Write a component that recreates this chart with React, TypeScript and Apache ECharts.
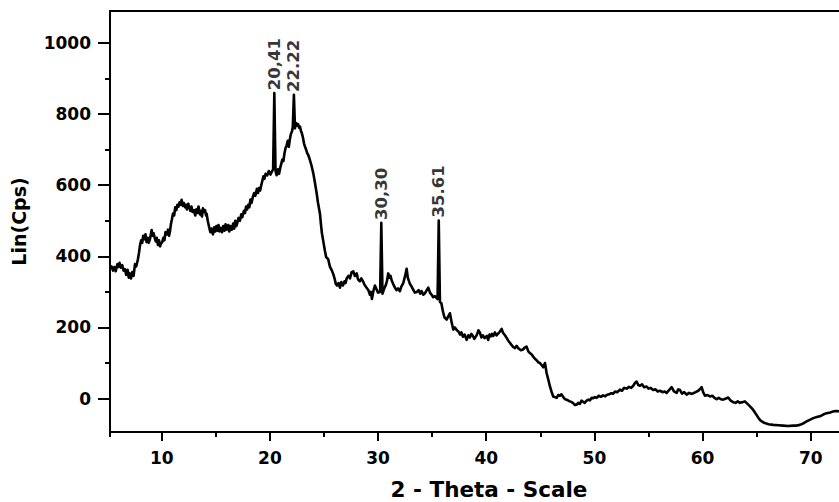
import { useEffect, useRef } from "react";
import * as echarts from "echarts";

// Axis ranges (2θ in degrees, intensity in counts per second)
const X_MIN = 5.22;
const X_MAX = 75.29;
const Y_MIN = -94;
const Y_MAX = 1090;

const xMajorTicks = [10, 20, 30, 40, 50, 60, 70];
const xMinorTicks = [X_MIN, 15, 25, 35, 45, 55, 65];
const yMajorTicks = [0, 200, 400, 600, 800, 1000];
const yMinorTicks = [100, 300, 500, 700, 900];

// Indexed reflections
const peakTheta = [20.41, 22.22, 30.3, 35.61];
const peakCounts = [859, 854, 494, 501];
const peakLabels = ["20,41", "22.22", "30,30", "35.61"];

// Diffractogram, 5–14.3°
const scanLow: [number, number][] = [
  [5.22, 365], [5.35, 372], [5.5, 360], [5.62, 370], [5.75, 358], [5.9, 378], [6.0, 370], [6.1, 382],
  [6.22, 368], [6.35, 375], [6.48, 360], [6.6, 364], [6.72, 348], [6.85, 362], [6.95, 340], [7.05, 352],
  [7.16, 338], [7.28, 356], [7.4, 345], [7.53, 378], [7.65, 372], [7.8, 392], [7.9, 410], [8.0, 432],
  [8.1, 445], [8.2, 438], [8.29, 458], [8.4, 448], [8.5, 462], [8.6, 440], [8.7, 452], [8.8, 438],
  [8.91, 448], [9.0, 462], [9.07, 474], [9.15, 458], [9.25, 465], [9.37, 450], [9.45, 442], [9.55, 452],
  [9.65, 432], [9.75, 445], [9.85, 428], [9.93, 436], [10.05, 440], [10.15, 452], [10.25, 445], [10.35, 468],
  [10.48, 462], [10.58, 475], [10.68, 458], [10.76, 470], [10.85, 490], [10.95, 505], [11.04, 520], [11.15, 515],
  [11.25, 538], [11.35, 530], [11.45, 545], [11.55, 540], [11.65, 552], [11.75, 545], [11.84, 559], [11.95, 542],
  [12.05, 550], [12.15, 538], [12.25, 545], [12.33, 532], [12.45, 548], [12.55, 538], [12.65, 528], [12.75, 540],
  [12.85, 525], [12.98, 530], [13.1, 515], [13.2, 532], [13.3, 522], [13.4, 540], [13.53, 518], [13.62, 528],
  [13.72, 512], [13.81, 535], [13.9, 525], [14.0, 530], [14.1, 515], [14.15, 520], [14.27, 498],
];

// Diffractogram, 14.4–30.2°
const scanMid: [number, number][] = [
  [14.4, 480], [14.5, 468], [14.6, 478], [14.74, 462], [14.85, 482], [14.95, 470], [15.05, 485], [15.15, 472],
  [15.25, 488], [15.35, 470], [15.45, 480], [15.57, 468], [15.68, 485], [15.8, 472], [15.9, 490], [16.03, 475],
  [16.15, 488], [16.25, 470], [16.35, 485], [16.49, 475], [16.6, 492], [16.7, 478], [16.8, 500], [16.9, 485],
  [17.0, 495], [17.1, 508], [17.23, 500], [17.35, 518], [17.45, 510], [17.6, 528], [17.7, 522], [17.8, 540],
  [17.9, 532], [18.0, 545], [18.1, 538], [18.2, 560], [18.3, 550], [18.43, 568], [18.55, 578], [18.65, 570],
  [18.8, 590], [18.9, 578], [19.0, 592], [19.1, 585], [19.2, 600], [19.3, 612], [19.4, 625], [19.5, 618],
  [19.6, 632], [19.75, 628], [19.9, 640], [20.05, 630], [20.18, 638], [20.3, 645], [20.52, 640], [20.62, 628],
  [20.75, 645], [20.85, 632], [20.95, 648], [21.05, 660], [21.15, 672], [21.25, 668], [21.35, 690], [21.45, 705],
  [21.55, 712], [21.65, 725], [21.75, 708], [21.85, 730], [21.95, 745], [22.05, 752], [22.12, 765], [22.32, 760],
  [22.42, 775], [22.5, 768], [22.6, 772], [22.7, 762], [22.78, 765], [22.88, 752], [22.94, 748], [23.05, 735],
  [23.15, 718], [23.25, 708], [23.35, 700], [23.45, 690], [23.55, 685], [23.7, 671], [23.85, 655], [24.01, 634],
  [24.15, 610], [24.32, 578], [24.45, 550], [24.63, 520], [24.72, 490], [24.81, 465], [24.95, 440], [25.09, 415],
  [25.2, 398], [25.39, 392], [25.55, 371], [25.7, 362], [25.86, 350], [26.0, 335], [26.1, 322], [26.2, 318],
  [26.35, 325], [26.48, 312], [26.6, 328], [26.75, 318], [26.9, 330], [27.0, 325], [27.1, 338], [27.25, 345],
  [27.4, 338], [27.55, 355], [27.71, 358], [27.85, 345], [28.02, 352], [28.15, 335], [28.32, 330], [28.45, 338],
  [28.6, 330], [28.75, 320], [28.94, 312], [29.1, 305], [29.25, 292], [29.35, 300], [29.43, 280], [29.55, 300],
  [29.71, 318], [29.85, 308], [30.0, 298], [30.19, 300],
];

// Diffractogram, 30.4–46°
const scanHigh: [number, number][] = [
  [30.41, 295], [30.55, 308], [30.7, 318], [30.82, 330], [30.94, 352], [31.05, 340], [31.15, 345], [31.26, 332],
  [31.4, 322], [31.56, 312], [31.7, 305], [31.85, 310], [32.02, 302], [32.15, 315], [32.33, 325], [32.5, 345],
  [32.64, 365], [32.75, 340], [32.95, 322], [33.1, 315], [33.22, 308], [33.4, 298], [33.59, 300], [33.75, 305],
  [33.9, 295], [34.03, 302], [34.18, 292], [34.33, 296], [34.5, 305], [34.64, 312], [34.8, 298], [34.95, 292],
  [35.1, 285], [35.25, 288], [35.5, 280], [35.72, 272], [35.85, 268], [36.03, 240], [36.15, 228], [36.34, 222],
  [36.5, 232], [36.64, 240], [36.8, 215], [36.95, 194], [37.1, 200], [37.29, 192], [37.45, 188], [37.57, 180],
  [37.7, 186], [37.85, 174], [38.0, 180], [38.19, 165], [38.35, 178], [38.49, 172], [38.62, 182], [38.77, 176],
  [38.9, 168], [39.05, 175], [39.14, 180], [39.28, 192], [39.42, 185], [39.55, 172], [39.69, 178], [39.85, 170],
  [40.06, 176], [40.18, 165], [40.3, 180], [40.42, 175], [40.53, 182], [40.65, 176], [40.8, 186], [40.95, 178],
  [41.08, 182], [41.25, 188], [41.42, 196], [41.55, 185], [41.73, 178], [41.9, 170], [42.05, 162], [42.19, 157],
  [42.35, 150], [42.5, 145], [42.66, 142], [42.8, 148], [43.02, 140], [43.2, 136], [43.39, 138], [43.55, 143],
  [43.73, 146], [43.9, 132], [44.04, 128], [44.2, 124], [44.34, 118], [44.5, 112], [44.66, 108], [44.8, 102],
  [44.96, 100], [45.1, 95], [45.27, 88], [45.43, 100], [45.58, 72], [45.75, 52], [45.89, 34],
];

// Diffractogram, 46–72.6°
const scanTail: [number, number][] = [
  [46.05, 18], [46.19, 6], [46.35, 4], [46.51, 2], [46.65, 10], [46.81, 8], [46.95, 12], [47.12, 4],
  [47.3, -2], [47.43, -3], [47.6, -6], [47.74, -8], [47.9, -10], [48.04, -13], [48.2, -18], [48.36, -17],
  [48.5, -12], [48.66, -15], [48.8, -6], [48.97, -9], [49.1, -12], [49.28, -6], [49.45, -3], [49.59, -5],
  [49.75, 2], [49.89, 1], [50.05, 4], [50.21, 2], [50.4, 8], [50.6, 5], [50.8, 9], [51.0, 6],
  [51.13, 10], [51.35, 12], [51.55, 15], [51.74, 14], [51.9, 20], [52.1, 18], [52.36, 25], [52.55, 22],
  [52.75, 30], [52.98, 28], [53.2, 33], [53.4, 30], [53.59, 36], [53.75, 44], [53.9, 48], [54.05, 38],
  [54.21, 36], [54.4, 40], [54.6, 32], [54.83, 34], [55.0, 28], [55.2, 30], [55.44, 24], [55.65, 26],
  [55.85, 20], [56.06, 22], [56.3, 18], [56.5, 20], [56.68, 16], [56.9, 24], [57.14, 32], [57.35, 20],
  [57.6, 16], [57.75, 26], [57.91, 24], [58.1, 14], [58.3, 18], [58.52, 11], [58.75, 16], [58.95, 13],
  [59.13, 15], [59.35, 18], [59.6, 22], [59.8, 28], [59.91, 32], [60.05, 18], [60.22, 8], [60.45, 10],
  [60.68, 6], [60.9, 8], [61.1, 2], [61.3, -2], [61.5, 2], [61.7, -2], [61.91, -3], [62.15, 0],
  [62.37, 3], [62.6, -6], [62.83, -10], [63.05, -12], [63.25, -8], [63.45, -12], [63.7, -10], [63.91, -8],
  [64.05, -12], [64.22, -17], [64.45, -24], [64.68, -32], [64.85, -40], [64.99, -46], [65.15, -54], [65.3, -60],
  [65.55, -66], [65.76, -69], [66.1, -72], [66.53, -74], [67.0, -75], [67.45, -76], [67.9, -77], [68.38, -76],
  [68.7, -76], [68.99, -74], [69.3, -70], [69.62, -64], [69.9, -60], [70.23, -55], [70.55, -52], [70.84, -50],
  [71.15, -45], [71.47, -41], [71.8, -39], [72.08, -36], [72.35, -35], [72.6, -36],
];

const FONT = "DejaVu Sans";
const INK = "#000000";

export default function App() {
  const ref = useRef<HTMLDivElement>(null);

  useEffect(() => {
    document.body.style.margin = "0";
    if (!ref.current) return;
    const chart = echarts.init(ref.current, null, { renderer: "svg" });

    const peaks = peakTheta.map((t, i) => [t, peakCounts[i]] as [number, number]);
    const scan = [...scanLow, ...scanMid, ...scanHigh, ...scanTail, ...peaks].sort((a, b) => a[0] - b[0]);

    const axisLine = { onZero: false, lineStyle: { color: INK, width: 2 } };
    const tickStyle = { color: INK, width: 2 };
    const labelStyle = {
      fontFamily: FONT,
      fontWeight: "bold" as const,
      fontSize: 17,
      color: INK,
      formatter: (v: number) => String(v),
    };

    chart.setOption({
      animation: false,
      backgroundColor: "#ffffff",
      // the frame runs on past the right edge of the canvas
      grid: { left: 110, right: -29, top: 11, bottom: 70, show: false, outerBoundsMode: "none" },
      xAxis: [
        {
          type: "value",
          position: "bottom",
          min: X_MIN,
          max: X_MAX,
          axisLine: { show: true, ...axisLine },
          axisTick: { show: true, customValues: xMajorTicks, length: 9, lineStyle: tickStyle },
          axisLabel: { show: true, customValues: xMajorTicks, margin: 17, ...labelStyle },
          splitLine: { show: false },
          name: "2 - Theta - Scale",
          nameLocation: "middle",
          nameGap: 46,
          nameTextStyle: { fontFamily: FONT, fontWeight: "bold", fontSize: 21.5, color: INK },
        },
        {
          type: "value",
          position: "bottom",
          min: X_MIN,
          max: X_MAX,
          axisLine: { show: false, onZero: false },
          axisTick: { show: true, customValues: xMinorTicks, length: 5, lineStyle: tickStyle },
          axisLabel: { show: false },
          splitLine: { show: false },
        },
        {
          type: "value",
          position: "top",
          min: X_MIN,
          max: X_MAX,
          axisLine: { show: true, ...axisLine },
          axisTick: { show: false },
          axisLabel: { show: false },
          splitLine: { show: false },
        },
      ],
      yAxis: [
        {
          type: "value",
          position: "left",
          min: Y_MIN,
          max: Y_MAX,
          axisLine: { show: true, ...axisLine },
          axisTick: { show: true, customValues: yMajorTicks, length: 12, lineStyle: tickStyle },
          axisLabel: { show: true, customValues: yMajorTicks, margin: 19, ...labelStyle },
          splitLine: { show: false },
          name: "Lin(Cps)",
          nameLocation: "middle",
          nameRotate: 90,
          nameGap: 82,
          nameTextStyle: { fontFamily: FONT, fontWeight: "bold", fontSize: 19, color: INK },
        },
        {
          type: "value",
          position: "left",
          min: Y_MIN,
          max: Y_MAX,
          axisLine: { show: false, onZero: false },
          axisTick: { show: true, customValues: yMinorTicks, length: 5, lineStyle: tickStyle },
          axisLabel: { show: false },
          splitLine: { show: false },
        },
      ],
      series: [
        {
          type: "line",
          xAxisIndex: 0,
          yAxisIndex: 0,
          data: scan,
          showSymbol: false,
          symbol: "none",
          lineStyle: { color: INK, width: 2.6, join: "round" },
          clip: true,
          silent: true,
        },
        {
          type: "scatter",
          xAxisIndex: 0,
          yAxisIndex: 0,
          data: peaks,
          symbolSize: 0,
          silent: true,
          label: {
            show: true,
            position: "top",
            distance: 3,
            rotate: 90,
            align: "left",
            verticalAlign: "middle",
            formatter: (p: { dataIndex: number }) => peakLabels[p.dataIndex],
            fontFamily: FONT,
            fontWeight: "bold",
            fontSize: 16.5,
            color: INK,
          },
        },
      ],
    });

    return () => chart.dispose();
  }, []);

  return <div ref={ref} style={{ width: 839, height: 502, overflow: "hidden" }} />;
}
